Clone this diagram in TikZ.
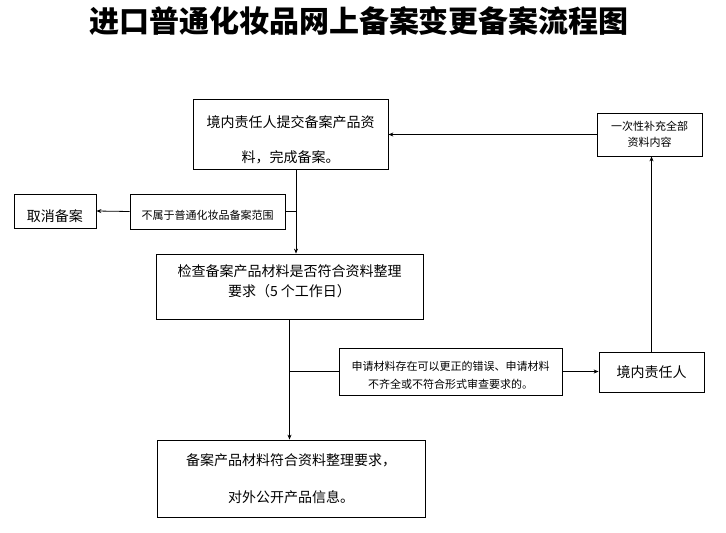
\documentclass[tikz,border=0pt]{standalone}
\usepackage{fontspec}
\usepackage{tikz}
\usetikzlibrary{arrows.meta}
\newfontfamily\cjk{Noto Sans CJK SC}
% text of a box, lifted by #1 without changing its size
\newcommand{\boxtext}[2]{\raisebox{#1}[\height][\depth]{\begin{tabular}{@{}c@{}}#2\end{tabular}}}

\begin{document}
\begin{tikzpicture}[x=1pt, y=-1pt,
		box/.style={draw, line width=0.8pt, inner sep=0pt, font=\cjk\fontsize{14pt}{17pt}\selectfont},
		smallbox/.style={box, font=\cjk\fontsize{11pt}{13.2pt}\selectfont},
		wire/.style={line width=0.8pt},
		link/.style={wire, -{Stealth[length=5pt, width=4pt]}}]
		\useasboundingbox (0, 0) rectangle (726, 533);
		\node[font=\cjk\bfseries\fontsize{30pt}{30pt}\selectfont] (title) at (359, 21) {进口普通化妆品网上备案变更备案流程图};
		% main column
		\node[box, minimum width=195pt, minimum height=66pt, font=\cjk\fontsize{14pt}{35pt}\selectfont] (submit) at (290.5, 134)
		{\boxtext{-4.3pt}{境内责任人提交备案产品资\\料，完成备案。}};
		\node[box, minimum width=267pt, minimum height=65pt, font=\cjk\fontsize{14pt}{20pt}\selectfont] (check) at (289.5, 286.5)
		{\boxtext{3.7pt}{检查备案产品材料是否符合资料整理\\要求（5 个工作日）}};
		\node[box, minimum width=268pt, minimum height=77pt, font=\cjk\fontsize{14pt}{36.5pt}\selectfont] (publish) at (291, 478.5)
		{\boxtext{1.75pt}{备案产品材料符合资料整理要求，\\对外公开产品信息。}};
		% side boxes
		\node[box, minimum width=82pt, minimum height=34pt] (cancel) at (55, 211) {\boxtext{-6.9pt}{取消备案}};
		\node[smallbox, minimum width=155pt, minimum height=35pt] (outside) at (207.5, 211.5) {\boxtext{-5.1pt}{不属于普通化妆品备案范围}};
		\node[smallbox, minimum width=223pt, minimum height=47pt, font=\cjk\fontsize{11pt}{18pt}\selectfont] (fix) at (450.5, 371.5)
		{\boxtext{-4.1pt}{申请材料存在可以更正的错误、申请材料\\不齐全或不符合形式审查要求的。}};
		\node[box, minimum width=105pt, minimum height=40pt] (agent) at (651.5, 372) {\boxtext{-2.4pt}{境内责任人}};
		\node[smallbox, minimum width=105pt, minimum height=43pt, font=\cjk\fontsize{11pt}{16.5pt}\selectfont] (supply) at (649.5, 134.5)
		{\boxtext{-0.65pt}{一次性补充全部\\资料内容}};
		% connectors
		\coordinate (trunk) at ([xshift=5.5pt]submit.south);
		\draw[link] (trunk) -- (trunk |- check.north);
		\draw[wire] (outside.east) -- (outside.east -| trunk);
		\draw[link] (outside.west) -- (cancel.east);
		\draw[link] (check.south) -- (check.south |- publish.north);
		\draw[wire] (check.south |- fix.west) -- (fix.west);
		\draw[link] (fix.east) -- (fix.east -| agent.west);
		\draw[link] (agent.north) -- (agent.north |- supply.south);
		\draw[link] (supply.west) -- (supply.west -| submit.east);
	\end{tikzpicture}
\end{document}
